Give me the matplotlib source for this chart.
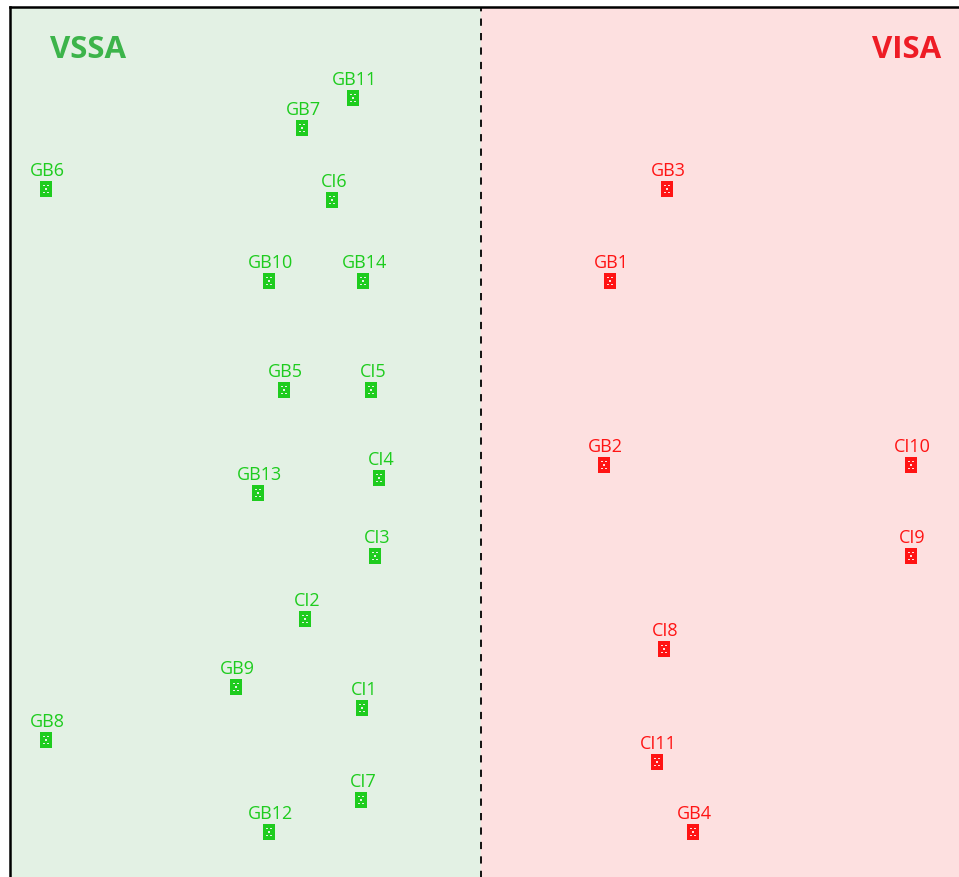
import matplotlib
matplotlib.use("Agg")
import matplotlib.pyplot as plt
from matplotlib.path import Path
import numpy as np

# positions (divider at x = 0)
vssa_names = ["GB11", "GB7", "GB6", "CI6", "GB10", "GB14", "GB5", "CI5", "GB13",
              "CI4", "CI3", "CI2", "GB9", "CI1", "GB8", "CI7", "GB12"]
vssa_x = [-1.28, -1.79, -4.35, -1.49, -2.12, -1.18, -1.97, -1.10, -2.23,
          -1.02, -1.06, -1.76, -2.45, -1.19, -4.35, -1.20, -2.12]
vssa_y = [7.79, 7.49, 6.88, 6.77, 5.96, 5.96, 4.87, 4.87, 3.84,
          3.99, 3.21, 2.58, 1.90, 1.69, 1.37, 0.77, 0.45]

visa_names = ["GB3", "GB1", "GB2", "CI10", "CI9", "CI8", "CI11", "GB4"]
visa_x = [1.85, 1.28, 1.22, 4.29, 4.29, 1.82, 1.75, 2.11]
visa_y = [6.88, 5.96, 4.12, 4.12, 3.21, 2.28, 1.15, 0.45]

green_bg = "#e3f1e4"
red_bg = "#fde0e0"
green_pt = "#1ecc1e"
red_pt = "#ff1414"

# little dice-like marker: a rectangle with five small holes
def dice_marker():
    w, h = 0.75, 1.0
    verts = [(-w/2, -h/2), (w/2, -h/2), (w/2, h/2), (-w/2, h/2), (-w/2, -h/2)]
    codes = [Path.MOVETO, Path.LINETO, Path.LINETO, Path.LINETO, Path.CLOSEPOLY]
    s = 0.09
    for cx, cy in [(-0.14, 0.22), (0.14, 0.22), (0.0, 0.0), (-0.14, -0.22), (0.14, -0.22)]:
        # reverse orientation -> hole
        verts += [(cx-s/2, cy-s/2), (cx-s/2, cy+s/2), (cx+s/2, cy+s/2), (cx+s/2, cy-s/2), (cx-s/2, cy-s/2)]
        codes += [Path.MOVETO, Path.LINETO, Path.LINETO, Path.LINETO, Path.CLOSEPOLY]
    return Path(verts, codes)

marker = dice_marker()

fig = plt.figure(figsize=(9.59, 8.78), dpi=100)
ax = fig.add_axes([10/959, -10/878, 960/959, 880/878])
ax.set_xlim(-4.71, 4.88)
ax.set_ylim(-0.10, 8.70)

ax.axvspan(-4.71, 0, color=green_bg, zorder=0)
ax.axvspan(0, 4.88, color=red_bg, zorder=0)
ax.axvline(0, color="black", linestyle=(0, (4, 4)), linewidth=1.3, zorder=1)

ax.scatter(vssa_x, vssa_y, marker=marker, s=120, color=green_pt, linewidths=0, zorder=3)
ax.scatter(visa_x, visa_y, marker=marker, s=120, color=red_pt, linewidths=0, zorder=3)

for n, x, y in zip(vssa_names, vssa_x, vssa_y):
    ax.annotate(n, (x, y), xytext=(1.0, 7.5), textcoords="offset points",
                ha="center", va="bottom", fontsize=13, color=green_pt, family="Open Sans")
for n, x, y in zip(visa_names, visa_x, visa_y):
    ax.annotate(n, (x, y), xytext=(1.0, 7.5), textcoords="offset points",
                ha="center", va="bottom", fontsize=13, color=red_pt, family="Open Sans")

ax.text(-3.93, 8.28, "VSSA", ha="center", va="center", fontsize=22.5, fontweight="bold",
        color="#3cb44a", family="Open Sans")
ax.text(4.25, 8.28, "VISA", ha="center", va="center", fontsize=22.5, fontweight="bold",
        color="#ee1c25", family="Open Sans")

ax.set_xticks([])
ax.set_yticks([])
for side in ["right", "bottom"]:
    ax.spines[side].set_visible(False)
for side in ["left", "top"]:
    ax.spines[side].set_linewidth(1.8)

fig.savefig("out.png", dpi=100)
